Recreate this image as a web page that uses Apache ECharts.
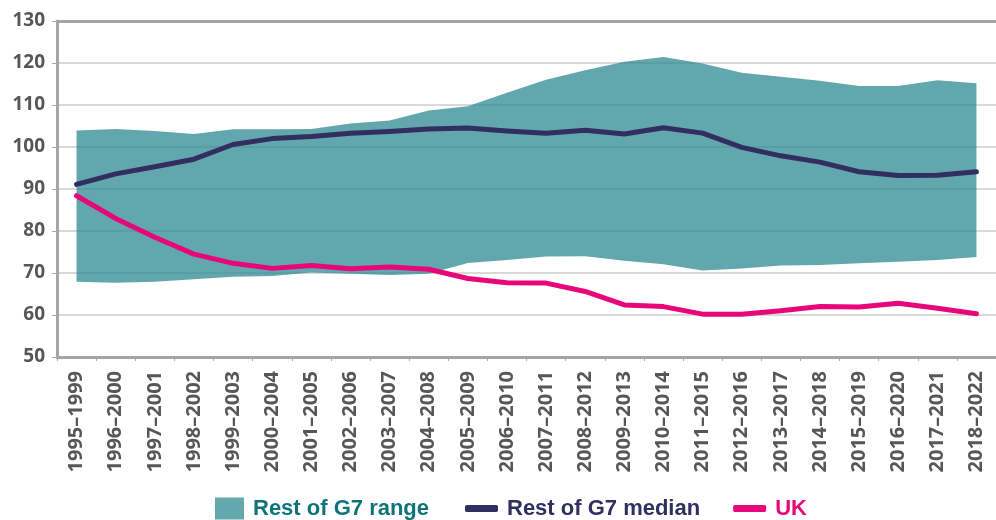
<!DOCTYPE html>
<html>
<head>
<meta charset="utf-8">
<script src="https://cdn.jsdelivr.net/npm/echarts@6/dist/echarts.min.js"></script>
<style>
  html, body { margin: 0; padding: 0; background: #fff; }
  #chart { width: 996px; height: 520px; }
</style>
</head>
<body>
<div id="chart"></div>
<script>
// periods on the x axis
var periods = ['1995–1999', '1996–2000', '1997–2001', '1998–2002', '1999–2003', '2000–2004',
	'2001–2005', '2002–2006', '2003–2007', '2004–2008', '2005–2009', '2006–2010', '2007–2011',
	'2008–2012', '2009–2013', '2010–2014', '2011–2015', '2012–2016', '2013–2017', '2014–2018',
	'2015–2019', '2016–2020', '2017–2021', '2018–2022'];

// rest of G7, min and max of the range
var rangeLow = [67.9, 67.7, 67.9, 68.5, 69.1, 69.3, 70.1, 69.8, 69.5, 69.8, 72.4, 73.1,
	73.9, 74.0, 72.9, 72.1, 70.6, 71.1, 71.8, 71.9, 72.3, 72.7, 73.1, 73.8];
var rangeHigh = [103.9, 104.3, 103.8, 103.1, 104.2, 104.2, 104.3, 105.6, 106.3, 108.7, 109.7, 112.9,
	116.0, 118.3, 120.3, 121.4, 119.9, 117.7, 116.7, 115.8, 114.5, 114.5, 115.9, 115.2];

// rest of G7 median
var median = [91.1, 93.6, 95.3, 97.1, 100.6, 102.0, 102.5, 103.3, 103.7, 104.3, 104.5, 103.8,
	103.3, 104.0, 103.1, 104.6, 103.3, 99.9, 97.9, 96.4, 94.1, 93.2, 93.3, 94.1];

// UK
var uk = [88.4, 83.0, 78.5, 74.5, 72.3, 71.1, 71.8, 71.0, 71.4, 70.9, 68.7, 67.7,
	67.6, 65.6, 62.4, 62.0, 60.2, 60.2, 61.0, 62.0, 61.9, 62.8, 61.6, 60.3];

var yTicks = [50, 60, 70, 80, 90, 100, 110, 120, 130];

var rangeSpan = rangeHigh.map(function (v, i) {
	return +(v - rangeLow[i]).toFixed(2);
});

var FONT = '"Open Sans", "Noto Sans", sans-serif';
var LEGEND_FONT = '"Liberation Sans", Arial, sans-serif';
var TEAL = '#64a8ae', NAVY = '#322e5f', PINK = '#e8077a';

let chart = echarts.init(document.getElementById('chart'), null, { renderer: 'canvas' });

let legendText = {
	fontFamily: LEGEND_FONT,
	fontWeight: 'bold',
	fontSize: 22,
	lineHeight: 25,
	padding: [0, 0, 0, 4]
};

let option = {
	animation: false,
	backgroundColor: '#fff',
	grid: {
		left: 57,
		right: -10,
		top: 21,
		bottom: 163
	},
	legend: [{
		data: [{ name: 'Rest of G7 range', textStyle: { color: '#0f7479' } }],
		left: 210,
		top: 491,
		icon: 'rect',
		itemWidth: 29,
		itemHeight: 22,
		textStyle: legendText
	}, {
		data: [
			{ name: 'Rest of G7 median', textStyle: { color: NAVY } },
			{ name: 'UK', textStyle: { color: PINK } }
		],
		left: 460,
		top: 491,
		icon: 'roundRect',
		itemWidth: 33,
		itemHeight: 7,
		itemGap: 33,
		textStyle: legendText
	}],
	xAxis: [{
		type: 'category',
		data: periods,
		boundaryGap: true,
		axisLine: { lineStyle: { color: '#a6a6a6', width: 3 } },
		axisTick: { show: true, length: 4, lineStyle: { color: '#a6a6a6', width: 1 } },
		axisLabel: {
			rotate: 90,
			margin: 14,
			interval: 0,
			color: '#575757',
			fontFamily: FONT,
			fontWeight: 'bold',
			fontSize: 20
		},
		splitLine: { show: false }
	}, {
		// top border of the plot
		type: 'category',
		data: periods,
		position: 'top',
		axisLine: { lineStyle: { color: '#a6a6a6', width: 3 } },
		axisTick: { show: false },
		axisLabel: { show: false }
	}],
	yAxis: {
		type: 'value',
		min: yTicks[0],
		max: yTicks[yTicks.length - 1],
		interval: 10,
		axisLine: { show: true, lineStyle: { color: '#a6a6a6', width: 3 } },
		axisTick: { show: true, length: 5, lineStyle: { color: '#a6a6a6', width: 1 } },
		axisLabel: {
			margin: 12,
			color: '#575757',
			fontFamily: FONT,
			fontWeight: 'bold',
			fontSize: 19
		},
		splitLine: { show: true, lineStyle: { color: '#d9d9d9', width: 2 } }
	},
	series: [{
		name: 'range low',
		type: 'line',
		stack: 'band',
		data: rangeLow,
		symbol: 'none',
		lineStyle: { opacity: 0 },
		silent: true,
		z: 1
	}, {
		name: 'Rest of G7 range',
		type: 'line',
		stack: 'band',
		data: rangeSpan,
		symbol: 'none',
		itemStyle: { color: TEAL },
		lineStyle: { opacity: 0 },
		areaStyle: { color: 'rgba(47,138,147,0.75)', opacity: 1 },
		z: 1
	}, {
		name: 'Rest of G7 median',
		type: 'line',
		data: median,
		symbol: 'none',
		itemStyle: { color: NAVY },
		lineStyle: { color: NAVY, width: 5, cap: 'round', join: 'round' },
		z: 3
	}, {
		name: 'UK',
		type: 'line',
		data: uk,
		symbol: 'none',
		itemStyle: { color: PINK },
		lineStyle: { color: PINK, width: 5, cap: 'round', join: 'round' },
		z: 4
	}]
};

chart.setOption(option);
</script>
</body>
</html>
